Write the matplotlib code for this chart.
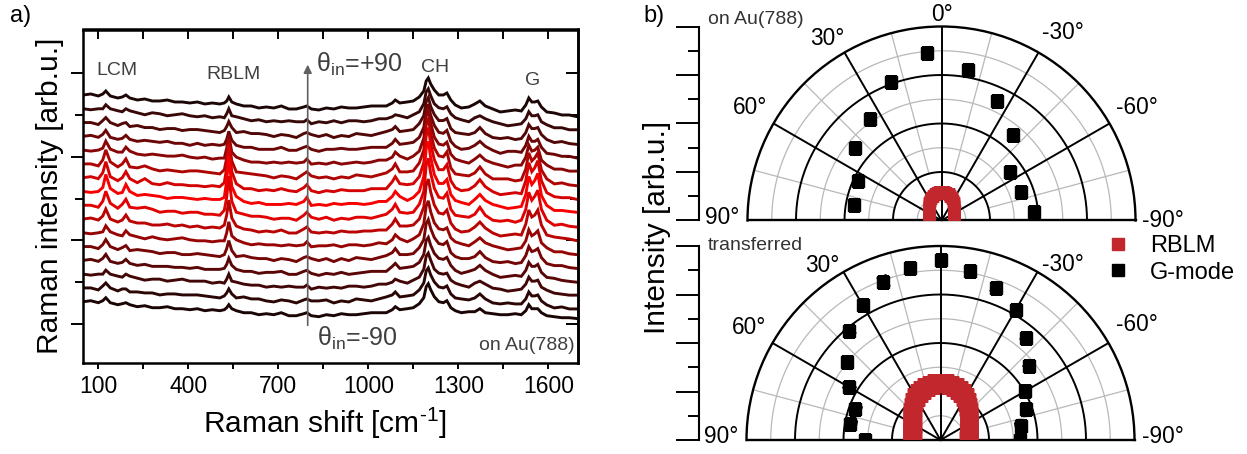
import numpy as np
import matplotlib.pyplot as plt
from matplotlib.lines import Line2D

plt.rcParams['font.family'] = ['Liberation Sans', 'DejaVu Sans']
plt.rcParams['mathtext.fontset'] = 'custom'
plt.rcParams['mathtext.rm'] = 'Liberation Sans'
plt.rcParams['mathtext.it'] = 'Liberation Sans:italic'

# ------------------ DATA: Raman spectra (panel a) ------------------
raman_shift = [50, 75, 100, 115, 125, 140, 165, 180, 192, 205, 230, 255, 280, 305, 330, 355, 380,
               405, 430, 455, 480, 505, 520, 528, 535, 545, 560, 585, 610, 635, 660, 685, 710, 735,
               760, 785, 795, 810, 835, 860, 885, 910, 935, 960, 985, 1010, 1035, 1060, 1080, 1090,
               1105, 1130, 1150, 1170, 1185, 1193, 1200, 1208, 1220, 1235, 1250, 1262, 1275, 1290,
               1310, 1335, 1355, 1372, 1390, 1415, 1440, 1465, 1490, 1510, 1525, 1535, 1545, 1555,
               1565, 1577, 1595, 1620, 1645, 1670, 1700]

# intensity in counts, relative to the start of each spectrum
spec_p90 = [0, 1, -1, 1, 4, -1, -3, -2, 0, -3, -5, -4, -6, -6, -5, -7, -7, -8, -7, -9,
            -8, -9, -8, -6, -2, -7, -9, -11, -11, -13, -12, -13, -11, -14, -14, -12, -11, -14, -15, -13,
            -14, -12, -13, -13, -12, -11, -11, -11, -8, -5, -8, -7, -6, -2, 4, 14, 17, 11, 5, 0,
            0, 2, -5, -10, -13, -12, -9, -6, -11, -14, -17, -16, -15, -16, -10, -3, -7, -7, -6, -12,
            -17, -18, -20, -20, -22]
spec_p78 = [0, -1, 0, 0, 4, 0, -2, -3, 0, -2, -4, -6, -4, -5, -7, -6, -5, -7, -8, -7,
            -9, -8, -9, -5, 0, -7, -8, -10, -12, -11, -13, -12, -13, -12, -13, -13, -11, -15, -13, -14,
            -12, -14, -12, -12, -13, -12, -10, -10, -8, -6, -7, -9, -6, -3, 5, 17, 20, 13, 5, 1,
            0, 2, -5, -9, -11, -13, -9, -7, -10, -13, -15, -17, -16, -15, -10, -3, -7, -7, -6, -13,
            -16, -19, -19, -21, -21]
spec_p66 = [0, 0, -2, 2, 5, 0, -3, -1, 0, -4, -3, -5, -5, -7, -6, -6, -8, -7, -7, -8,
            -9, -10, -8, -4, 1, -5, -10, -9, -11, -11, -12, -14, -12, -13, -15, -11, -10, -12, -14, -12,
            -15, -13, -14, -11, -12, -13, -11, -9, -7, -4, -9, -8, -7, -1, 7, 21, 25, 16, 8, 2,
            2, 4, -6, -10, -11, -12, -10, -5, -11, -15, -16, -15, -17, -16, -10, -2, -6, -6, -5, -12,
            -17, -20, -19, -21, -22]
spec_p54 = [0, 1, -1, 2, 6, -1, -3, -2, 1, -3, -5, -4, -5, -6, -5, -7, -7, -9, -7, -9,
            -8, -9, -8, -3, 5, -4, -9, -11, -11, -13, -13, -13, -11, -14, -14, -11, -10, -13, -15, -13,
            -13, -12, -13, -13, -12, -11, -11, -11, -7, -3, -8, -7, -6, -1, 9, 27, 32, 21, 11, 4,
            3, 6, -5, -10, -13, -12, -9, -5, -10, -14, -17, -15, -15, -16, -9, 0, -5, -5, -3, -11,
            -17, -18, -20, -20, -22]
spec_p42 = [0, -1, 0, 2, 9, 1, -2, -2, 3, -1, -4, -5, -4, -5, -6, -6, -5, -7, -8, -7,
            -9, -8, -8, 2, 15, -2, -7, -10, -12, -12, -13, -12, -13, -12, -13, -12, -9, -14, -13, -14,
            -12, -14, -13, -12, -13, -12, -10, -10, -7, -2, -6, -9, -6, -1, 12, 34, 40, 27, 13, 6,
            5, 8, -4, -9, -11, -13, -9, -5, -10, -13, -15, -17, -15, -15, -7, 5, -1, 0, 3, -10,
            -15, -19, -19, -21, -21]
spec_p30 = [0, 0, -2, 4, 14, 2, -3, 0, 5, -3, -4, -2, -5, -7, -6, -7, -8, -7, -7, -8,
            -9, -10, -6, 6, 25, 3, -8, -9, -10, -11, -12, -14, -12, -13, -15, -10, -8, -12, -14, -13,
            -15, -13, -14, -11, -12, -13, -11, -9, -5, 0, -8, -8, -7, 1, 14, 39, 46, 31, 16, 8,
            7, 12, -4, -10, -11, -12, -9, -3, -10, -15, -15, -15, -17, -16, -5, 11, 3, 6, 11, -6,
            -15, -20, -19, -21, -22]
spec_p18 = [0, 1, -1, 5, 16, 1, -3, 0, 6, -1, -5, -1, -6, -7, -5, -7, -7, -8, -8, -9,
            -8, -9, -5, 10, 33, 6, -6, -11, -11, -13, -12, -13, -11, -13, -14, -10, -7, -13, -15, -13,
            -14, -12, -13, -13, -13, -11, -11, -11, -4, 1, -6, -7, -6, 1, 15, 42, 50, 34, 18, 8,
            8, 13, -3, -10, -13, -12, -8, -2, -9, -14, -17, -16, -15, -16, -3, 15, 6, 10, 17, -3,
            -15, -19, -20, -20, -22]
spec_p6 = [0, -1, 0, 4, 17, 3, -2, -1, 7, 0, -4, -3, -4, -5, -7, -6, -6, -7, -8, -7,
           -8, -8, -6, 11, 35, 5, -5, -10, -12, -11, -13, -13, -13, -12, -13, -10, -6, -14, -13, -14,
           -12, -13, -12, -12, -13, -12, -10, -10, -5, 0, -5, -9, -6, 0, 15, 43, 50, 34, 17, 8,
           8, 12, -3, -9, -11, -13, -8, -3, -9, -13, -15, -17, -16, -15, -3, 15, 7, 11, 18, -4,
           -14, -19, -19, -20, -21]
spec_m6 = [0, 0, -2, 4, 14, 2, -3, 1, 6, -2, -3, -2, -4, -7, -6, -6, -8, -7, -7, -9,
           -9, -10, -5, 8, 29, 4, -7, -9, -11, -11, -12, -14, -13, -13, -15, -10, -7, -12, -14, -12,
           -15, -13, -14, -12, -12, -13, -11, -9, -4, 1, -7, -8, -7, 1, 14, 40, 47, 32, 17, 8,
           7, 12, -4, -10, -11, -12, -9, -2, -10, -15, -16, -15, -17, -15, -4, 13, 5, 9, 15, -4,
           -15, -20, -19, -21, -22]
spec_m18 = [0, 1, -1, 3, 10, 0, -3, -1, 4, -2, -4, -4, -6, -6, -5, -7, -6, -8, -7, -9,
            -8, -9, -6, 4, 19, 1, -7, -10, -11, -13, -12, -13, -11, -14, -14, -10, -8, -13, -14, -13,
            -14, -12, -13, -13, -12, -12, -11, -11, -5, 0, -7, -7, -6, 0, 12, 34, 40, 27, 14, 6,
            5, 9, -4, -10, -13, -12, -8, -3, -9, -14, -17, -16, -15, -16, -5, 9, 2, 4, 9, -6,
            -16, -18, -19, -20, -22]
spec_m30 = [0, -1, 0, 1, 7, 1, -2, -3, 2, -2, -4, -6, -4, -6, -7, -6, -5, -7, -8, -8,
            -9, -8, -8, 0, 11, -3, -7, -10, -12, -11, -12, -12, -13, -12, -13, -12, -9, -14, -13, -13,
            -12, -14, -12, -12, -13, -12, -10, -11, -7, -2, -6, -9, -6, -2, 9, 27, 32, 21, 10, 4,
            3, 5, -5, -9, -11, -13, -9, -5, -10, -13, -15, -17, -16, -15, -8, 3, -3, -1, 2, -10,
            -15, -19, -19, -21, -22]
spec_m42 = [0, 0, -2, 2, 7, 0, -3, -1, 1, -4, -3, -4, -5, -7, -6, -6, -8, -8, -7, -8,
            -9, -10, -8, -2, 6, -4, -10, -9, -11, -12, -12, -14, -12, -13, -15, -11, -10, -12, -14, -12,
            -15, -12, -14, -11, -12, -13, -11, -9, -6, -2, -8, -8, -7, -1, 7, 23, 27, 18, 9, 3,
            2, 5, -6, -10, -12, -12, -10, -5, -11, -15, -16, -15, -17, -16, -9, 0, -5, -4, -2, -11,
            -17, -19, -19, -21, -22]
spec_m54 = [0, 1, -1, 2, 6, -1, -3, -2, 1, -3, -5, -4, -6, -6, -6, -7, -7, -8, -7, -9,
            -9, -9, -8, -4, 2, -5, -9, -11, -11, -13, -12, -12, -11, -14, -14, -11, -10, -13, -15, -13,
            -14, -12, -14, -13, -12, -11, -11, -11, -6, -3, -8, -7, -6, -2, 6, 20, 23, 15, 7, 2,
            1, 3, -5, -10, -13, -11, -9, -5, -10, -14, -17, -16, -15, -16, -10, -2, -6, -6, -4, -12,
            -17, -18, -20, -21, -22]
spec_m66 = [0, -1, 0, 0, 4, 0, -2, -3, 0, -2, -4, -6, -5, -5, -7, -6, -5, -7, -7, -7,
            -9, -8, -9, -5, 0, -7, -8, -10, -11, -11, -13, -12, -13, -12, -13, -13, -11, -15, -13, -14,
            -13, -14, -12, -12, -13, -12, -10, -10, -8, -5, -7, -9, -6, -3, 5, 18, 21, 14, 5, 1,
            0, 1, -6, -9, -11, -13, -9, -7, -10, -14, -15, -17, -16, -15, -10, -3, -7, -7, -6, -13,
            -16, -19, -20, -21, -21]
spec_m78 = [0, 0, -2, 2, 5, 0, -3, -1, -1, -4, -4, -5, -5, -7, -6, -6, -7, -7, -7, -8,
            -9, -10, -8, -5, -1, -6, -10, -9, -11, -11, -13, -14, -12, -13, -15, -12, -11, -13, -13, -12,
            -15, -13, -14, -11, -12, -13, -11, -9, -7, -4, -9, -8, -7, -2, 5, 17, 20, 13, 6, 1,
            0, 2, -6, -10, -11, -12, -10, -6, -11, -15, -16, -15, -16, -16, -11, -4, -8, -8, -7, -13,
            -17, -20, -19, -21, -21]
spec_m90 = [0, 1, -1, 1, 4, -1, -3, -2, -1, -3, -5, -4, -6, -6, -5, -7, -7, -8, -7, -9,
            -8, -9, -8, -6, -3, -7, -9, -11, -11, -13, -12, -13, -11, -14, -14, -12, -11, -14, -15, -13,
            -14, -12, -13, -13, -12, -11, -11, -11, -8, -5, -8, -7, -6, -2, 4, 15, 18, 12, 5, 0,
            -1, 1, -6, -9, -11, -10, -10, -7, -11, -12, -13, -13, -12, -13, -9, -3, -7, -7, -7, -11,
            -14, -15, -16, -16, -17]

theta_in = [90, 78, 66, 54, 42, 30, 18, 6, -6, -18, -30, -42, -54, -66, -78, -90]
spectra = [spec_p90, spec_p78, spec_p66, spec_p54, spec_p42, spec_p30, spec_p18, spec_p6,
           spec_m6, spec_m18, spec_m30, spec_m42, spec_m54, spec_m66, spec_m78, spec_m90]
spec_colors = ['#1c0606', '#380707', '#520707', '#6c0606', '#8a0505', '#ad0404', '#d40303', '#f80000',
               '#e00202', '#ba0303', '#960404', '#760505', '#5a0606', '#420606', '#2c0505', '#1a0404']

# ------------------ DATA: polar plots (panel b) ------------------
# on Au(788)
theta_gmode_au = [-85, -70, -55, -40, -25, -10, 5, 20, 35, 50, 65, 80]
gmode_au = [0.481, 0.436, 0.432, 0.577, 0.682, 0.787, 0.868, 0.759, 0.641, 0.580, 0.476, 0.460]
theta_rblm = [-90, -85, -80, -75, -70, -65, -60, -55, -50, -45, -40, -35, -30, -25, -20, -15, -10, -5, 0,
              5, 10, 15, 20, 25, 30, 35, 40, 45, 50, 55, 60, 65, 70, 75, 80, 85, 90]
rblm_au = [0.063, 0.063, 0.064, 0.065, 0.067, 0.070, 0.075, 0.078, 0.084, 0.091, 0.099, 0.109, 0.118,
           0.126, 0.133, 0.141, 0.143, 0.146, 0.147, 0.146, 0.143, 0.139, 0.133, 0.129, 0.118, 0.109,
           0.097, 0.091, 0.084, 0.078, 0.073, 0.070, 0.067, 0.065, 0.064, 0.063, 0.063]
# transferred
theta_gmode_tr = [-90, -80, -70, -60, -50, -40, -30, -20, -10, 0, 10, 20, 30, 40, 50, 60, 70, 80, 90]
gmode_tr = [0.410, 0.420, 0.471, 0.504, 0.593, 0.685, 0.774, 0.832, 0.887, 0.926, 0.898, 0.867,
            0.802, 0.731, 0.628, 0.545, 0.468, 0.472, 0.390]
gmode_tr_err = [0.02, 0.03, 0.025, 0.02, 0.025, 0.02, 0.03, 0.02, 0.025, 0.02, 0.025, 0.03,
                0.02, 0.025, 0.02, 0.03, 0.025, 0.03, 0.02]
rblm_tr = [0.144, 0.145, 0.147, 0.150, 0.154, 0.160, 0.167, 0.177, 0.189, 0.206, 0.224, 0.240, 0.254,
           0.266, 0.276, 0.283, 0.289, 0.293, 0.295, 0.293, 0.290, 0.283, 0.275, 0.266, 0.255, 0.240,
           0.222, 0.206, 0.190, 0.177, 0.166, 0.160, 0.154, 0.150, 0.147, 0.145, 0.144]

RED = '#c1272d'
W, H = 1247, 454


def box(left, top, width, height):
    return [left / W, 1 - (top + height) / H, width / W, height / H]


fig = plt.figure(figsize=(W / 100, H / 100), dpi=100)

# ------------------ PANEL a ------------------
ax = fig.add_axes(box(83.3, 29.5, 495, 333.2))
n = len(spectra)
for i, (spec, col) in enumerate(zip(spectra, spec_colors)):
    ax.plot(raman_shift, 0.533 + (n - 1 - i) * 0.3297 + np.array(spec) / 41.8,
            color=col, lw=2.1, solid_joinstyle='miter')

ax.set_xlim(50, 1700)
ax.set_ylim(-0.926, 7.045)
ax.set_xticks(range(100, 1601, 300))
ax.set_xticks(range(250, 1700, 300), minor=True)
ax.set_yticks([0, 2, 4, 6])
ax.set_yticks([1, 3, 5], minor=True)
ax.set_yticklabels([])
ax.tick_params(axis='x', which='both', direction='out', length=4.5, width=1.4,
               labelsize=16.5, pad=4, top=False)
ax.tick_params(axis='y', which='major', direction='out', length=8.4, width=1.4, right=False)
ax.tick_params(axis='y', which='minor', direction='out', length=6, width=1.4, right=False)
for s in ax.spines.values():
    s.set_linewidth(1.8)

secx = ax.secondary_xaxis('top')
secx.set_xticks(range(100, 1601, 150))
secx.tick_params(direction='in', length=7, width=1.4, labeltop=False)
secx.spines['top'].set_linewidth(1.8)
secy = ax.secondary_yaxis('right')
secy.set_yticks([0, 2, 4, 6])
secy.set_yticks([1, 3, 5], minor=True)
secy.tick_params(which='major', direction='in', length=8.4, width=1.4, labelright=False)
secy.tick_params(which='minor', direction='in', length=6, width=1.4)
secy.spines['right'].set_linewidth(1.8)

txt = '#404040'
ax.text(162, 5.96, 'LCM', ha='center', va='baseline', fontsize=14, color=txt)
ax.text(549, 5.86, 'RBLM', ha='center', va='baseline', fontsize=14, color=txt)
ax.text(1224, 6.04, 'CH', ha='center', va='baseline', fontsize=14, color=txt)
ax.text(1549, 5.72, 'G', ha='center', va='baseline', fontsize=14, color=txt)
ax.annotate('', xy=(798, 6.27), xytext=(798, -0.1),
            arrowprops=dict(arrowstyle='-|>', color='#606060', lw=1.2, mutation_scale=12))
ax.text(826, 6.04, r'θ$_{\mathregular{in}}$=+90', ha='left', va='baseline', fontsize=18, color=txt)
ax.text(828, -0.53, r'θ$_{\mathregular{in}}$=-90', ha='left', va='baseline', fontsize=18, color=txt)
ax.text(1689, -0.62, 'on Au(788)', ha='right', va='baseline', fontsize=14, color=txt)

fig.text(50.5 / W, 1 - 196 / H, 'Raman intensity [arb.u.]', rotation=90,
         ha='center', va='center', fontsize=21.5)
fig.text(325 / W, 1 - 423 / H, 'Raman shift [cm$^{\\mathregular{\u20101}}$]',
         ha='center', va='center', fontsize=21.5)
fig.text(10 / W, 1 - 16 / H, 'a)', ha='left', va='center', fontsize=17)
fig.text(643 / W, 1 - 16 / H, 'b)', ha='left', va='center', fontsize=17)


# ------------------ PANEL b ------------------
def polar_panel(cx, cy, R=194):
    pax = fig.add_axes(box(cx - R, cy - 1.5 * R, 2 * R, 2 * R), projection='polar')
    pax.set_theta_zero_location('N')
    pax.set_thetamin(-90)
    pax.set_thetamax(90)
    pax.set_ylim(0, 1)
    pax.set_xticks([])
    pax.set_yticks([])
    pax.grid(False)
    for s in pax.spines.values():
        s.set_linewidth(1.7)
        s.set_color('black')
    arc = np.radians(np.linspace(-90, 90, 361))
    for r in [0.125, 0.375, 0.625, 0.875]:
        pax.plot(arc, np.full_like(arc, r), color='#b8b8b8', lw=0.9, zorder=1)
    for r in [0.25, 0.5, 0.75]:
        pax.plot(arc, np.full_like(arc, r), color='black', lw=1.4, zorder=1.2)
    for a in [-75, -45, -15, 15, 45, 75]:
        pax.plot([np.radians(a)] * 2, [0.25, 1], color='#b8b8b8', lw=0.9, zorder=1)
    for a in [-60, -30, 0, 30, 60]:
        pax.plot([np.radians(a)] * 2, [0, 1], color='black', lw=1.4, zorder=1.2)

    # radial scale drawn at the left of the half circle
    rax = fig.add_axes(box(699.3, cy - R, 10, R))
    rax.set_ylim(0, 1)
    for s in ['top', 'right', 'bottom']:
        rax.spines[s].set_visible(False)
    rax.spines['left'].set_linewidth(1.5)
    rax.patch.set_visible(False)
    rax.set_xticks([])
    rax.set_yticks([0, 0.25, 0.5, 0.75, 1])
    rax.set_yticks([0.125, 0.375, 0.625, 0.875], minor=True)
    rax.tick_params(axis='y', which='major', direction='out', length=16.3, width=1.4, labelleft=False)
    rax.tick_params(axis='y', which='minor', direction='out', length=8, width=1.4)
    return pax


def angle_labels(pax, labels):
    for lab, a, r in labels:
        pax.text(np.radians(a), r, lab, ha='center', va='center', fontsize=16.3)


pa = polar_panel(941.5, 220.5)
pa.plot(np.radians(theta_rblm), rblm_au, 's', color=RED, ms=8.8, mec='none', zorder=3)
pa.plot(np.radians(theta_gmode_au), gmode_au, 's', color='black', ms=8.3, zorder=4)
angle_labels(pa, [('0°', 0, 1.064), ('30°', 32, 1.108), ('60°', 59.5, 1.148), ('90°', 89.2, 1.129),
                  ('-30°', -32.8, 1.153), ('-60°', -59.9, 1.163), ('-90°', -90, 1.143)])
fig.text(708 / W, 1 - 20 / H, 'on Au(788)', ha='left', va='center', fontsize=14, color='#333333')

pb = polar_panel(940.5, 440)
pb.plot(np.radians(theta_rblm), rblm_tr, 's', color=RED, ms=13.5, mec='none', zorder=3)
pb.errorbar(np.radians(theta_gmode_tr), gmode_tr, yerr=gmode_tr_err, fmt='s', color='black',
            ms=8, capsize=3.5, elinewidth=1, capthick=1, zorder=4)
angle_labels(pb, [('30°', 34.1, 1.089), ('60°', 59.4, 1.144), ('90°', 89.2, 1.129),
                  ('-30°', -34.9, 1.105), ('-60°', -59.4, 1.174), ('-90°', -89, 1.148)])
fig.text(708 / W, 1 - 246 / H, 'transferred', ha='left', va='center', fontsize=14, color='#333333')

fig.text(657 / W, 1 - 227 / H, 'Intensity [arb.u.]', rotation=90, ha='center', va='center',
         fontsize=21.5)

handles = [Line2D([], [], marker='s', ls='', color=RED, ms=9),
           Line2D([], [], marker='s', ls='', color='black', ms=9)]
fig.legend(handles, ['RBLM', 'G-mode'], loc='upper left', bbox_to_anchor=(1106 / W, 1 - 235 / H),
           frameon=False, fontsize=17, handlelength=1.0, handletextpad=0.85,
           borderaxespad=0, borderpad=0, labelspacing=0.2)

fig.savefig('out.png', dpi=100)
